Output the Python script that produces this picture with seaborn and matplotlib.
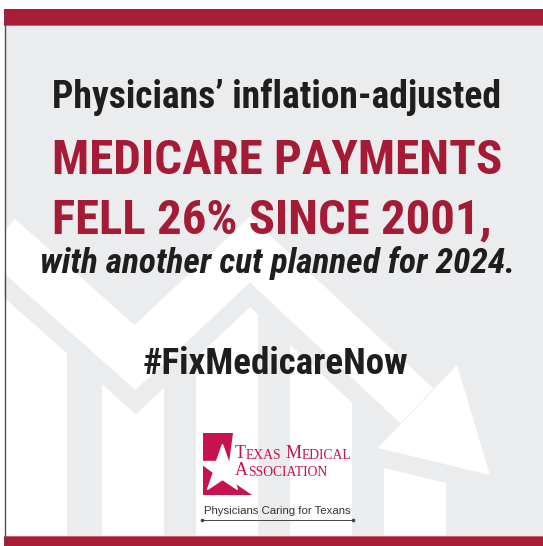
import numpy as np
import pandas as pd
import seaborn as sns
import matplotlib.pyplot as plt
from matplotlib import font_manager
from matplotlib.patches import Rectangle, Polygon

# canvas is 543 x 546 px, axes use pixel units with y pointing up
W, H = 543, 546

# background bar chart: white columns (centre x, height from the bottom)
bar_x = [36, 132.5, 227, 320.5, 415]
bar_h = [276, 166, 266, 226, 126]

# falling trend line (centre line) and its arrow head
trend_x = [-20, 135, 250, 417]
trend_y = [326, 188.5, 296.5, 140]
head_x = [457, 490, 378]
head_y = [181, 71, 98]

headline = "Physicians\u2019 inflation-adjusted"
red_lines = ["MEDICARE PAYMENTS", "FELL 26% SINCE 2001,"]
subline = "with another cut planned for 2024."
hashtag = "#FixMedicareNow"
org_top = ["T", "EXAS", "M", "EDICAL"]
org_bottom = ["A", "SSOCIATION"]
tagline = "Physicians Caring for Texans"

BG = "#ebecee"
BAND = "#a91d37"
RED = "#a51b36"
INK = "#1f1d1e"
LOGO = "#c6134f"

# pick the narrowest bold family that is installed
names = {f.name for f in font_manager.fontManager.ttflist}
cond = "DejaVu Sans"
for cand in ["Liberation Sans Narrow", "Roboto Condensed", "DejaVu Sans Condensed",
             "Roboto", "Liberation Sans"]:
    if cand in names:
        cond = cand
        break
COND = [cond, "DejaVu Sans"]
SERIF = ["Liberation Serif", "DejaVu Serif"]
SANS = ["Liberation Sans", "DejaVu Sans"]

sns.set_theme(style="white")
plt.rcParams["font.family"] = COND

fig = plt.figure(figsize=(W / 100, H / 100), dpi=100)
fig.patch.set_facecolor("white")
ax = fig.add_axes([0, 0, 1, 1])

# grey panel
ax.add_patch(Rectangle((5, 10), W - 5, 510, facecolor=BG, edgecolor="none", zorder=0))

# white columns
df = pd.DataFrame({"x": bar_x, "h": bar_h})
sns.barplot(data=df, x="x", y="h", native_scale=True, width=62 / 93.5,
            color="white", saturation=1, linewidth=0, ax=ax, zorder=1)

# trend line: grey halo first, white line on top
px = 0.72
gap = 18
lw = 48
sns.lineplot(x=trend_x, y=trend_y, sort=False, estimator=None, color=BG,
             linewidth=(lw + 2 * gap) * px, solid_joinstyle="miter",
             solid_capstyle="butt", ax=ax, zorder=2)
head = np.column_stack([head_x, head_y])
ax.add_patch(Polygon(head, closed=True, facecolor=BG, edgecolor=BG,
                     linewidth=2 * gap * px, joinstyle="round", zorder=2))
sns.lineplot(x=trend_x, y=trend_y, sort=False, estimator=None, color="white",
             linewidth=lw * px, solid_joinstyle="miter",
             solid_capstyle="butt", ax=ax, zorder=3)
ax.add_patch(Polygon(head, closed=True, facecolor="white", edgecolor="none", zorder=3))

ax.set_xlim(0, W)
ax.set_ylim(0, H)
ax.set_axis_off()

# headline text, each line fitted to the width it has in the poster
texts = [
    (ax.text(277, 438, headline, ha="center", va="baseline", fontsize=27,
             fontweight="bold", color=INK, zorder=5), 450),
    (ax.text(277, 372, red_lines[0], ha="center", va="baseline", fontsize=37,
             fontweight="bold", color=RED, zorder=5), 450),
    (ax.text(271.5, 313, red_lines[1], ha="center", va="baseline", fontsize=37,
             fontweight="bold", color=RED, zorder=5), 439),
    (ax.text(278, 273, subline, ha="center", va="baseline", fontsize=25,
             fontweight="bold", style="italic", color=INK, zorder=5), 476),
    (ax.text(275, 172, hashtag, ha="center", va="baseline", fontsize=26,
             fontweight="bold", color=INK, zorder=5), 266),
    (ax.text(277, 32, tagline, ha="center", va="baseline", family=SANS,
             fontsize=7.5, color="#333333", zorder=7), 147),
]
fig.canvas.draw()
rend = fig.canvas.get_renderer()
for t, target in texts:
    w = t.get_window_extent(rend).width
    t.set_fontsize(t.get_fontsize() * target / w)

# logo: red block with a white star
ax.add_patch(Polygon([(203, 113), (233, 113), (227, 68), (252, 51), (203, 51)],
                     closed=True, facecolor=LOGO, edgecolor="none", zorder=5))
ax.plot([222], [77], marker="*", ms=36, color="white", mec="white", zorder=6)

big, small = 13, 9.8
t = ax.text(235, 88, org_top[0], family=SERIF, fontsize=big, color=LOGO,
            va="baseline", zorder=7)
t = ax.annotate(org_top[1], xy=(1, 0), xycoords=t, va="bottom", family=SERIF,
                fontsize=small, color=LOGO, zorder=7)
t = ax.annotate(org_top[2], xy=(1, 0), xycoords=t, xytext=(2.8, 0),
                textcoords="offset points", va="bottom", family=SERIF,
                fontsize=big, color=LOGO, zorder=7)
ax.annotate(org_top[3], xy=(1, 0), xycoords=t, va="bottom", family=SERIF,
            fontsize=small, color=LOGO, zorder=7)
t = ax.text(235, 71, org_bottom[0], family=SERIF, fontsize=big, color=LOGO,
            va="baseline", zorder=7)
ax.annotate(org_bottom[1], xy=(1, 0), xycoords=t, va="bottom", family=SERIF,
            fontsize=small, color=LOGO, zorder=7)

ax.plot([202, 353], [26, 26], color="#444444", lw=0.7, marker="o", ms=1.6,
        zorder=7)

# red bands, white margins and left rule
ax.add_patch(Rectangle((4, 520), W, 17.4, facecolor=BAND, edgecolor="none", zorder=8))
ax.add_patch(Rectangle((4, 519.6), W, 1.4, facecolor="#cf6275", edgecolor="none", zorder=8))
ax.add_patch(Rectangle((4, 0), W, 10, facecolor=BAND, edgecolor="none", zorder=8))
ax.add_patch(Rectangle((4, 9.2), W, 1.2, facecolor="#cf6275", edgecolor="none", zorder=8))
ax.add_patch(Rectangle((0, 0), 4, H, facecolor="white", edgecolor="none", zorder=9))
ax.add_patch(Rectangle((0, 537.4), W, 10, facecolor="white", edgecolor="none", zorder=9))
ax.plot([4.5, 4.5], [0, 537.4], color="#4d4d4d", lw=1.0, zorder=10)

fig.savefig("out.png", dpi=100, facecolor="white")
